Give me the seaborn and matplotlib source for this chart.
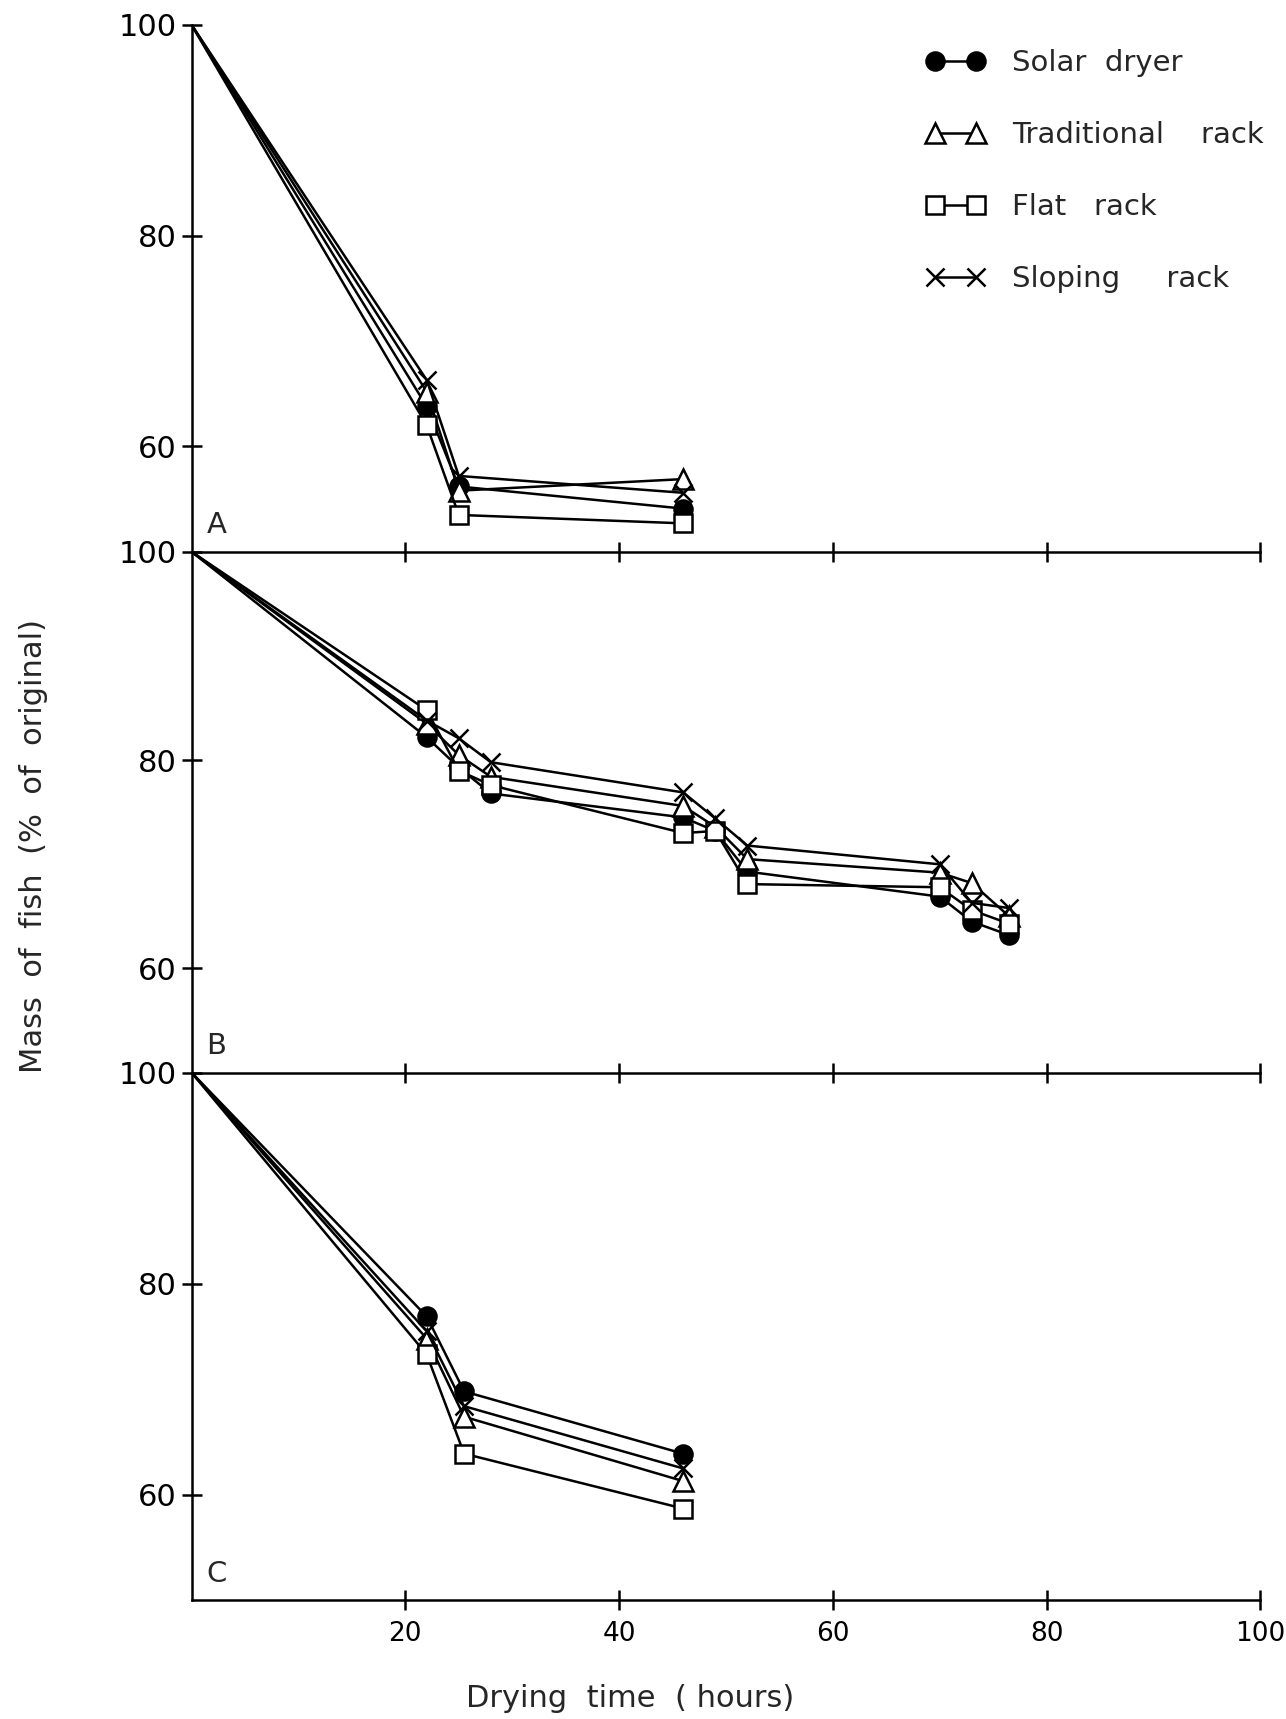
import numpy as np
import pandas as pd
import matplotlib.pyplot as plt
import seaborn as sns
from matplotlib.lines import Line2D

methods = ["Solar dryer", "Traditional rack", "Flat rack", "Sloping rack"]
legend_labels = ["Solar  dryer", "Traditional    rack", "Flat   rack", "Sloping     rack"]

# panel A
hours_a = [0, 22, 25, 46]
solar_a = [100, 63.8, 56.2, 54.1]
trad_a = [100, 65.2, 55.8, 56.9]
flat_a = [100, 62.0, 53.5, 52.7]
slope_a = [100, 66.3, 57.2, 55.6]

# panel B
hours_b = [0, 22, 25, 28, 46, 49, 52, 70, 73, 76.5]
solar_b = [100, 82.2, 79.3, 76.8, 74.5, 73.2, 69.3, 66.9, 64.5, 63.2]
trad_b = [100, 83.5, 80.5, 78.4, 75.6, 73.6, 70.5, 69.2, 68.2, 65.0]
flat_b = [100, 84.8, 79.0, 77.6, 73.0, 73.2, 68.1, 67.8, 65.6, 64.3]
slope_b = [100, 83.8, 82.1, 79.8, 76.9, 74.4, 71.8, 70.0, 66.3, 65.8]

# panel C
hours_c = [0, 22, 25.5, 46]
solar_c = [100, 76.9, 69.8, 63.9]
trad_c = [100, 74.8, 67.4, 61.3]
flat_c = [100, 73.3, 63.9, 58.7]
slope_c = [100, 75.5, 68.4, 62.5]

x_ticks = [20, 40, 60, 80, 100]
y_ticks = [60, 80, 100]

sns.set_style("ticks")
plt.rcParams["font.family"] = ["DejaVu Sans"]

styles = {
    "Solar dryer": dict(marker="o", markersize=13, markerfacecolor="black"),
    "Traditional rack": dict(marker="^", markersize=14, markerfacecolor="white"),
    "Flat rack": dict(marker="s", markersize=12.5, markerfacecolor="white"),
    "Sloping rack": dict(marker="x", markersize=13, markerfacecolor="black"),
}

fig = plt.figure(figsize=(12.86, 17.19), dpi=100)
left, width = 0.149, 0.831
axA = fig.add_axes([left, 0.679, width, 0.3065])
axB = fig.add_axes([left, 0.376, width, 0.303])
axC = fig.add_axes([left, 0.069, width, 0.307])

panels = [
    (axA, hours_a, [solar_a, trad_a, flat_a, slope_a], "A"),
    (axB, hours_b, [solar_b, trad_b, flat_b, slope_b], "B"),
    (axC, hours_c, [solar_c, trad_c, flat_c, slope_c], "C"),
]

for ax, hours, series, letter in panels:
    ax.set_facecolor("none")
    for name, vals in zip(methods, series):
        # no marker at the starting point (0 h, 100 %)
        sns.lineplot(x=hours, y=vals, ax=ax, color="black", lw=1.8,
                     markeredgecolor="black", markeredgewidth=1.8,
                     markevery=list(range(1, len(hours))),
                     legend=False, **styles[name])
    ax.set_xlim(0, 100)
    ax.set_ylim(50, 100)
    ax.set_xticks(x_ticks)
    ax.set_yticks(y_ticks)
    ax.set_xlabel("")
    ax.set_ylabel("")
    sns.despine(ax=ax)
    for s in ["left", "bottom"]:
        ax.spines[s].set_linewidth(1.8)
        ax.spines[s].set_color("black")
    ax.tick_params(direction="inout", length=14, width=1.8, colors="black",
                   labelsize=22, pad=4)
    ax.text(1.4, 51.2, letter, fontsize=21, ha="left", va="bottom")
    if ax is not axC:
        ax.tick_params(axis="x", labelbottom=False)

axC.tick_params(axis="x", pad=8, labelsize=19)

handles = [Line2D([], [], color="black", lw=1.8, markeredgecolor="black",
                  markeredgewidth=1.8, **styles[m]) for m in methods]
axA.legend(handles, legend_labels, numpoints=2, frameon=False, fontsize=21,
           handlelength=2.0, handletextpad=0.95, labelspacing=1.5,
           loc="upper right", bbox_to_anchor=(0.992, 0.978),
           bbox_transform=fig.transFigure, borderaxespad=0)

fig.text(0.026, 0.508, "Mass  of  fish  (%  of  original)", rotation=90,
         fontsize=22, ha="center", va="center")
fig.text(0.49, 0.012, "Drying  time  ( hours)", fontsize=22,
         ha="center", va="center")

fig.savefig("out.png", dpi=100)
